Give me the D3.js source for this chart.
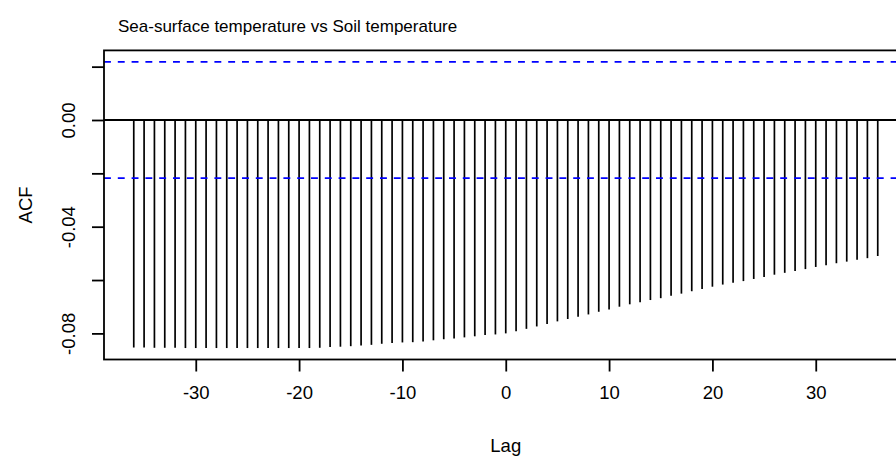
<!DOCTYPE html>
<html>
<head>
<meta charset="utf-8">
<script src="https://cdn.jsdelivr.net/npm/d3@7"></script>
<style>
  html, body { margin: 0; padding: 0; background: #fff; }
  svg { display: block; }
  text { font-family: "Liberation Sans", Arial, sans-serif; fill: #000; }
</style>
</head>
<body>
<svg id="chart" width="896" height="458"></svg>
<script>
// Cross-correlation of sea-surface vs soil temperature, lags -36..36
const lags = d3.range(-36, 37);
const acfValues = [
  -0.0853, -0.0853, -0.0854, -0.0854, -0.0854, -0.0855, -0.0855, -0.0855, -0.0855,
  -0.0855, -0.0855, -0.0855, -0.0855, -0.0855, -0.0855, -0.0855, -0.0855, -0.0855,
  -0.0854, -0.0851, -0.0850, -0.0848, -0.0845, -0.0843, -0.0839, -0.0836,
  -0.0834, -0.0833, -0.0830, -0.0826, -0.0822, -0.0819, -0.0815, -0.0811, -0.0806, -0.0804,
  -0.0800,
  -0.0792, -0.0783, -0.0774, -0.0765, -0.0755, -0.0746, -0.0738, -0.0729, -0.0719, -0.0710,
  -0.0700, -0.0691, -0.0683, -0.0675, -0.0668, -0.0659, -0.0651, -0.0642, -0.0634, -0.0625,
  -0.0617, -0.0610, -0.0604, -0.0596, -0.0589, -0.0580, -0.0573, -0.0566, -0.0559, -0.0551,
  -0.0545, -0.0537, -0.0531, -0.0524, -0.0518, -0.0510
];
const ciBound = 0.0218;
const xTicks = [-30, -20, -10, 0, 10, 20, 30];
const xTickLabels = ["-30", "-20", "-10", "0", "10", "20", "30"];
const yTicks = [0.02, 0.00, -0.02, -0.04, -0.06, -0.08];
const yTickLabels = ["", "0.00", "", "-0.04", "", "-0.08"];
const titleText = "Sea-surface temperature vs Soil temperature";

const svg = d3.select("#chart");
const plot = { left: 104, right: 907.5, top: 50.4, bottom: 359.5 };

// Axis limits padded 4% beyond data, as in base graphics
const xPad = (36 - (-36)) * 0.04;
const x = d3.scaleLinear().domain([-36 - xPad, 36 + xPad]).range([plot.left, plot.right]);
const yMin = d3.min(acfValues), yMax = ciBound;
const yPad = (yMax - yMin) * 0.04;
const y = d3.scaleLinear().domain([yMin - yPad, yMax + yPad]).range([plot.bottom, plot.top]);

// Vertical spikes
svg.append("g").selectAll("line").data(lags).join("line")
  .attr("x1", d => x(d)).attr("x2", d => x(d))
  .attr("y1", y(0)).attr("y2", (d, i) => y(acfValues[i]))
  .attr("stroke", "#000").attr("stroke-width", 1.7);

// Zero line
svg.append("line")
  .attr("x1", plot.left).attr("x2", plot.right)
  .attr("y1", y(0)).attr("y2", y(0))
  .attr("stroke", "#000").attr("stroke-width", 1.8);

// Confidence bounds
svg.append("g").selectAll("line").data([ciBound, -ciBound]).join("line")
  .attr("x1", plot.left).attr("x2", plot.right)
  .attr("y1", d => y(d)).attr("y2", d => y(d))
  .attr("stroke", "#0000ff").attr("stroke-width", 1.8)
  .attr("stroke-dasharray", "6.9,6.9");

// Box
svg.append("rect")
  .attr("x", plot.left).attr("y", plot.top)
  .attr("width", plot.right - plot.left).attr("height", plot.bottom - plot.top)
  .attr("fill", "none").attr("stroke", "#000").attr("stroke-width", 1.8);

// X axis
const xAxis = d3.axisBottom(x).tickValues(xTicks).tickSize(12).tickPadding(14)
  .tickFormat((d, i) => xTickLabels[i]);
const gx = svg.append("g").attr("transform", `translate(0,${plot.bottom})`).call(xAxis);
gx.select(".domain").remove();
gx.selectAll("line").attr("stroke-width", 1.8);
gx.selectAll("text").attr("font-size", 18.5).style("font-family", "Liberation Sans, Arial, sans-serif");

// Y axis
const yAxis = d3.axisLeft(y).tickValues(yTicks).tickSize(12).tickPadding(0)
  .tickFormat((d, i) => yTickLabels[i]);
const gy = svg.append("g").attr("transform", `translate(${plot.left},0)`).call(yAxis);
gy.select(".domain").remove();
gy.selectAll("line").attr("stroke-width", 1.8);
gy.selectAll("text")
  .attr("font-size", 18.5)
  .style("font-family", "Liberation Sans, Arial, sans-serif")
  .attr("x", null).attr("dy", null)
  .attr("text-anchor", "middle")
  .attr("transform", "translate(-29,0) rotate(-90)");

// Titles
svg.append("text").attr("x", 118).attr("y", 32)
  .attr("font-size", 17).text(titleText);
svg.append("text").attr("x", (plot.left + 907.5) / 2).attr("y", 452)
  .attr("text-anchor", "middle").attr("font-size", 18.5).text("Lag");
svg.append("text")
  .attr("transform", `translate(32,${(plot.top + plot.bottom) / 2}) rotate(-90)`)
  .attr("text-anchor", "middle").attr("font-size", 18.5).text("ACF");
</script>
</body>
</html>
